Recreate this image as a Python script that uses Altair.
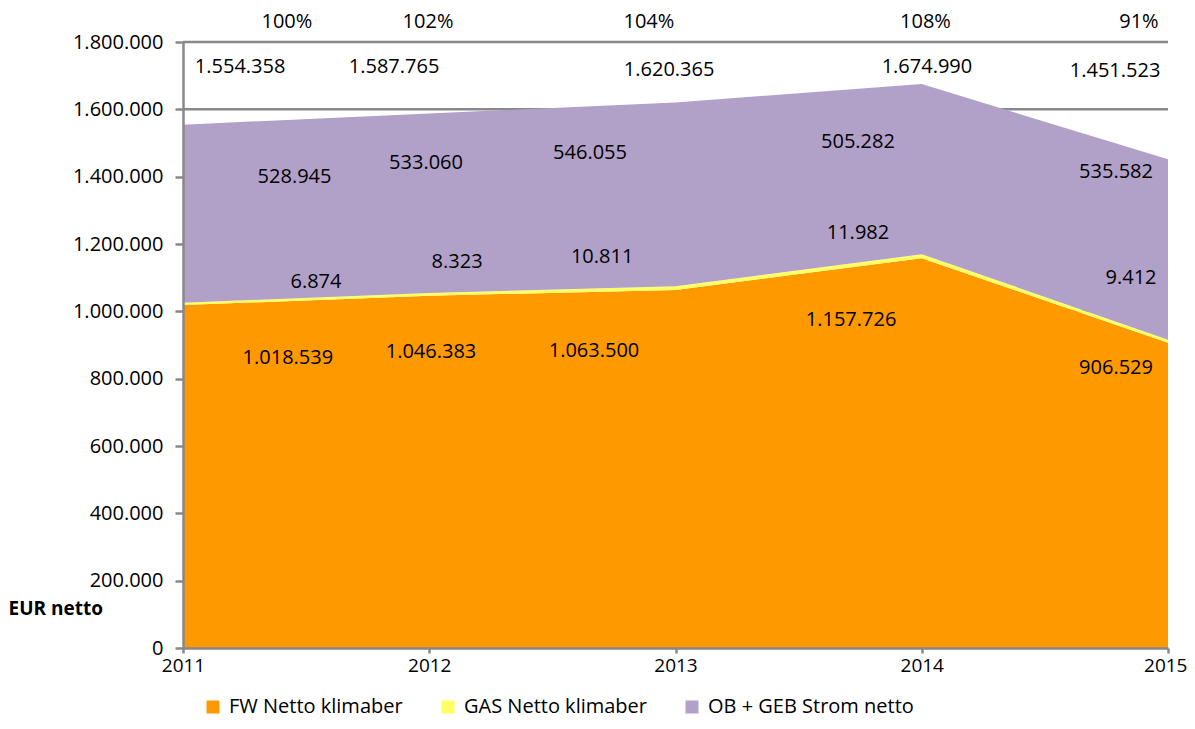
import altair as alt
import pandas as pd

years = [2011, 2012, 2013, 2014, 2015]
series = ["FW Netto klimaber", "GAS Netto klimaber", "OB + GEB Strom netto"]
colors = ["#FF9900", "#FFFF66", "#B1A0C7"]

fw = [1018539, 1046383, 1063500, 1157726, 906529]
gas = [6874, 8323, 10811, 11982, 9412]
ob = [528945, 533060, 546055, 505282, 535582]
totals = [1554358, 1587765, 1620365, 1674990, 1451523]
pct = ["100%", "102%", "104%", "108%", "91%"]
y_ticks = [0, 200000, 400000, 600000, 800000, 1000000, 1200000, 1400000, 1600000, 1800000]

# label anchor positions (year, value units)
pct_x = [2011.422, 2011.995, 2012.892, 2014.015, 2014.882]
pct_y = [1860000] * 5
tot_x = [2011.232, 2011.857, 2012.974, 2014.021, 2014.785]
tot_y = [1725700, 1726700, 1716800, 1725700, 1713900]
ob_x = [2011.453, 2011.987, 2012.653, 2013.741, 2014.789]
ob_y = [1399900, 1441500, 1471200, 1503900, 1414800]
gas_x = [2011.540, 2012.113, 2012.702, 2013.741, 2014.850]
gas_y = [1088000, 1147400, 1162300, 1233600, 1098100]
fw_x = [2011.426, 2012.007, 2012.669, 2013.713, 2014.789]
fw_y = [860500, 878300, 883100, 974300, 830800]


def de(n):
    return f"{n:,}".replace(",", ".")


rows = []
for k, (name, vals) in enumerate(zip(series, [fw, gas, ob])):
    for yr, v in zip(years, vals):
        rows.append({"year": yr, "value": v, "series": name, "ord": k})
area_df = pd.DataFrame(rows)

labs = []
for xs, ys, ts in [
    (pct_x, pct_y, pct),
    (tot_x, tot_y, [de(v) for v in totals]),
    (ob_x, ob_y, [de(v) for v in ob]),
    (gas_x, gas_y, [de(v) for v in gas]),
    (fw_x, fw_y, [de(v) for v in fw]),
]:
    for a, b, t in zip(xs, ys, ts):
        labs.append({"year": a, "value": b, "t": t})
lab_df = pd.DataFrame(labs)
grid_df = pd.DataFrame({"value": y_ticks})

FONT = "Open Sans"
GRAY = "#898989"

xscale = alt.Scale(domain=[2011, 2015], nice=False, zero=False)
yscale = alt.Scale(domain=[0, 1800000], nice=False)

grid = alt.Chart(grid_df).mark_rule(color=GRAY, strokeWidth=2.5).encode(
    y=alt.Y("value:Q", scale=yscale)
)

area = alt.Chart(area_df).mark_area(opacity=1).encode(
    x=alt.X(
        "year:Q",
        scale=xscale,
        axis=alt.Axis(
            values=years, format="d", title=None, grid=False,
            domainColor=GRAY, domainWidth=2.5, tickColor=GRAY, tickWidth=2.5,
            tickSize=5, labelFont=FONT, labelFontSize=19, labelColor="black",
            labelPadding=3, zindex=1, labelFlush=False,
            labelAlign={"condition": {"test": "datum.value == 2015", "value": "right"}, "value": "center"},
            labelOffset={"condition": {"test": "datum.value == 2015", "value": 19}, "value": 0},
        ),
    ),
    y=alt.Y(
        "value:Q",
        stack="zero",
        scale=yscale,
        axis=alt.Axis(
            values=y_ticks, grid=False, title="EUR netto",
            labelExpr="replace(replace(format(datum.value, ','), ',', '.'), ',', '.')",
            domainColor=GRAY, domainWidth=2.5, tickColor=GRAY, tickWidth=2.5,
            tickSize=8, labelFont=FONT, labelFontSize=20, labelColor="black",
            labelPadding=12, zindex=1,
            titleAngle=0, titleX=-175, titleY=566, titleAlign="left",
            titleBaseline="middle", titleFont=FONT, titleFontSize=19,
            titleFontWeight="bold", titleColor="black",
        ),
    ),
    color=alt.Color(
        "series:N",
        scale=alt.Scale(domain=series, range=colors),
        legend=alt.Legend(
            title=None, orient="none", legendX=20, legendY=655,
            direction="horizontal", symbolType="square", symbolSize=169,
            symbolStrokeWidth=0, labelFont=FONT, labelFontSize=20,
            labelColor="black", columnPadding=35, labelOffset=6, padding=0,
            labelLimit=400,
        ),
    ),
    order=alt.Order("ord:Q"),
)

text = alt.Chart(lab_df).mark_text(
    font=FONT, fontSize=20, color="black", align="center", baseline="middle"
).encode(
    x=alt.X("year:Q", scale=xscale),
    y=alt.Y("value:Q", scale=yscale, stack=None),
    text="t:N",
)

chart = (
    alt.layer(grid, area, text)
    .properties(
        width=985,
        height=606,
        padding={"left": 175, "top": 34, "right": 19, "bottom": 73},
        autosize=alt.AutoSizeParams(type="none"),
    )
    .configure_view(stroke=None)
)

chart.save("out.html", embed_options={"renderer": "svg", "actions": False})
